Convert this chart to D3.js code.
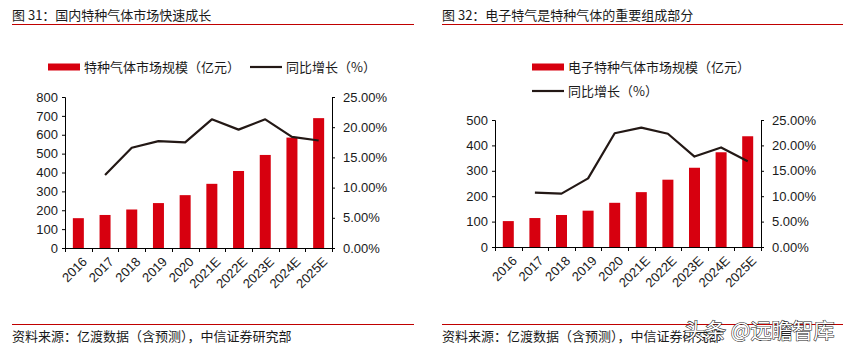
<!DOCTYPE html>
<html><head><meta charset="utf-8">
<script src="https://cdn.jsdelivr.net/npm/d3@7"></script>
<style>
html,body{margin:0;padding:0;background:#fff;}
svg{display:block;font-family:"Liberation Sans","Noto Sans CJK SC",Arial,sans-serif;}
</style></head>
<body><svg id="chart" width="850" height="353"></svg>
<script>
const categories = ["2016","2017","2018","2019","2020","2021E","2022E","2023E","2024E","2025E"];
const specialGasMarket = [158,175,204,238,280,340,408,493,585,688];
const specialGasGrowth = [null,12.1,16.6,17.7,17.5,21.3,19.6,21.3,18.4,17.8];
const electronicGasMarket = [102,114,126,143,174,216,265,312,373,436];
const electronicGasGrowth = [null,10.7,10.5,13.5,22.4,23.5,22.3,17.8,19.6,16.9];
const leftTicks1 = [0,100,200,300,400,500,600,700,800];
const rightTicks1 = [0,5,10,15,20,25];
const leftTicks2 = [0,100,200,300,400,500];
const rightTicks2 = [0,5,10,15,20,25];
const titles = ["图 31：国内特种气体市场快速成长","图 32：电子特气是特种气体的重要组成部分"];
const legendBar = ["特种气体市场规模（亿元）","电子特种气体市场规模（亿元）"];
const legendLine = "同比增长（%）";
const sourceText = "资料来源：亿渡数据（含预测），中信证券研究部";

const RED = "#D7000F", LINE = "#231815", TXT = "#1a1a1a";
const svg = d3.select("#chart");

function panel(o){
  const g = svg.append("g");
  // title + rule
  g.append("text").attr("x",o.tx).attr("y",19.5).attr("font-size",13).attr("fill",TXT)
    .attr("font-family","'Noto Sans CJK SC','Liberation Sans',sans-serif").text(o.title);
  g.append("line").attr("x1",o.tx).attr("x2",o.rx).attr("y1",24.5).attr("y2",24.5).attr("stroke","#C00000").attr("stroke-width",1);
  // footer
  g.append("line").attr("x1",o.tx).attr("x2",o.rx).attr("y1",324.5).attr("y2",324.5).attr("stroke","#C00000").attr("stroke-width",1);
  g.append("text").attr("x",o.tx).attr("y",341).attr("font-size",13).attr("fill",TXT)
    .attr("font-family","'Noto Sans CJK SC','Liberation Sans',sans-serif").text(sourceText);

  const x = d3.scaleBand().domain(categories).range([o.x0,o.x1]).paddingInner(0.6).paddingOuter(0.3);
  const xb = d3.scaleBand().domain(categories).range([o.x0,o.x1]);
  const yL = d3.scaleLinear().domain([0,o.lmax]).range([o.yb,o.yt]);
  const yR = d3.scaleLinear().domain([0,25]).range([o.yb,o.yt]);

  // bars
  g.selectAll("rect.bar").data(o.bars).join("rect").attr("class","bar")
    .attr("x",(d,i)=>xb(categories[i])+xb.bandwidth()/2-5.5).attr("width",11)
    .attr("y",d=>yL(d)).attr("height",d=>o.yb-yL(d)).attr("fill",RED);

  // axes
  const ax = g.append("g").attr("transform",`translate(${o.x0},0)`)
    .call(d3.axisLeft(yL).tickValues(o.lt).tickSize(3).tickSizeOuter(3).tickPadding(4).tickFormat(d3.format("d")));
  const ar = g.append("g").attr("transform",`translate(${o.x1},0)`)
    .call(d3.axisRight(yR).tickValues(o.rt).tickSize(3).tickSizeOuter(3).tickPadding(8).tickFormat(d=>d.toFixed(2)+"%"));
  // x axis
  const axb = g.append("g");
  axb.append("line").attr("x1",o.x0).attr("x2",o.x1).attr("y1",o.yb+0.5).attr("y2",o.yb+0.5).attr("stroke","#000");
  const bounds = categories.map(c=>xb(c)).concat([o.x1]);
  axb.selectAll("line.tk").data(bounds).join("line").attr("class","tk")
    .attr("x1",d=>Math.round(d)+0.5).attr("x2",d=>Math.round(d)+0.5).attr("y1",o.yb).attr("y2",o.yb+4).attr("stroke","#000");
  axb.selectAll("text.xl").data(categories).join("text").attr("class","xl")
    .attr("transform",d=>`translate(${xb(d)+xb.bandwidth()/2+3},${o.yb+8}) rotate(-45)`)
    .attr("text-anchor","end").attr("dy","0.71em").attr("font-size",13).attr("fill",TXT).text(d=>d);

  [ax,ar].forEach(a=>{
    a.select(".domain").attr("stroke","#000");
    a.selectAll(".tick line").attr("stroke","#000");
    a.selectAll(".tick text").attr("font-size",13).attr("fill",TXT).attr("font-family","'Liberation Sans',Arial,sans-serif");
  });

  // line
  const pts = o.growth.map((v,i)=>({c:categories[i],v})).filter(d=>d.v!=null);
  g.append("path").datum(pts)
    .attr("d",d3.line().x(d=>xb(d.c)+xb.bandwidth()/2).y(d=>yR(d.v)))
    .attr("fill","none").attr("stroke",LINE).attr("stroke-width",2.2).attr("stroke-linejoin","round");

  // legend
  const lf = "'Noto Sans CJK SC','Liberation Sans',sans-serif";
  g.append("rect").attr("x",o.lg.bx).attr("y",o.lg.by-3.5).attr("width",32).attr("height",7).attr("fill",RED);
  g.append("text").attr("x",o.lg.bx+36).attr("y",o.lg.by+4.5).attr("font-size",13).attr("fill",TXT).attr("font-family",lf).text(o.legendBar);
  g.append("line").attr("x1",o.lg.lx).attr("x2",o.lg.lx+32).attr("y1",o.lg.ly).attr("y2",o.lg.ly).attr("stroke",LINE).attr("stroke-width",2.2);
  g.append("text").attr("x",o.lg.lx+36).attr("y",o.lg.ly+4.5).attr("font-size",13).attr("fill",TXT).attr("font-family",lf).text(legendLine);
}

panel({tx:12,rx:414,title:titles[0],x0:65,x1:332,yt:97,yb:248,lmax:800,lt:leftTicks1,rt:rightTicks1,
  bars:specialGasMarket,growth:specialGasGrowth,legendBar:legendBar[0],
  lg:{bx:48,by:67,lx:250,ly:67}});
panel({tx:442,rx:843,title:titles[1],x0:495,x1:761,yt:120,yb:247,lmax:500,lt:leftTicks2,rt:rightTicks2,
  bars:electronicGasMarket,growth:electronicGasGrowth,legendBar:legendBar[1],
  lg:{bx:532,by:67,lx:532,ly:91}});

// watermark
svg.append("text").attr("x",684).attr("y",338).attr("font-size",21)
  .attr("font-family","'Noto Sans CJK SC',sans-serif")
  .attr("fill","#fff").attr("stroke","#222").attr("stroke-width",1.1).attr("paint-order","stroke")
  .text("头条 @远瞻智库");
</script></body></html>
